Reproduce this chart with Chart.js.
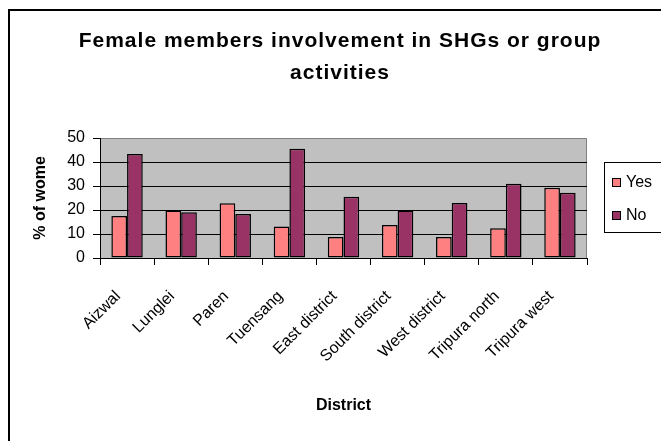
<!DOCTYPE html>
<html>
<head>
<meta charset="utf-8">
<script src="https://cdn.jsdelivr.net/npm/chart.js@4.4.1/dist/chart.umd.min.js"></script>
<style>
  html, body { margin: 0; padding: 0; background: #fff; overflow: hidden; }
  #wrap { position: relative; width: 661px; height: 441px; }
</style>
</head>
<body>
<div id="wrap"><canvas id="chart" width="661" height="441"></canvas></div>
<script>
// data
const districts = ['Aizwal', 'Lunglei', 'Paren', 'Tuensang', 'East district',
  'South district', 'West district', 'Tripura north', 'Tripura west'];
const yesValues = [17.5, 19.8, 22.8, 13.1, 8.8, 13.8, 8.8, 12.4, 29.3];
const noValues  = [43.3, 19.1, 18.3, 45.5, 25.5, 19.8, 22.9, 30.9, 27.2];
const seriesNames = ['Yes', 'No'];
const yMax = 50;
const yStep = 10;
const titleLines = ['Female members involvement in SHGs or group', 'activities'];
const yTitle = '% of wome';
const xTitle = 'District';

const FONT = "'Liberation Sans', Arial, Helvetica, sans-serif";
const YES_COLOR = '#FF8080';
const NO_COLOR = '#993366';

// plot background, outer frame, title and legend (Excel style)
const excelLook = {
  id: 'excelLook',
  beforeDraw(chart) {
    const { ctx, chartArea: a } = chart;
    ctx.save();
    ctx.fillStyle = '#fff';
    ctx.fillRect(0, 0, chart.width, chart.height);
    ctx.fillStyle = '#C0C0C0';
    ctx.fillRect(a.left, a.top, a.right - a.left, a.bottom - a.top);
    ctx.strokeStyle = '#808080';
    ctx.lineWidth = 1;
    ctx.beginPath();
    ctx.moveTo(a.left, a.top + 0.5);
    ctx.lineTo(a.right - 0.5, a.top + 0.5);
    ctx.lineTo(a.right - 0.5, a.bottom);
    ctx.stroke();
    ctx.restore();
  },
  afterDraw(chart) {
    const { ctx } = chart;
    ctx.save();
    // outer frame (only top and left edges are inside the picture)
    ctx.strokeStyle = '#000';
    ctx.lineWidth = 2;
    ctx.beginPath();
    ctx.moveTo(9, chart.height);
    ctx.lineTo(9, 10);
    ctx.lineTo(chart.width, 10);
    ctx.stroke();

    // title
    ctx.fillStyle = '#000';
    ctx.font = 'bold 21px ' + FONT;
    ctx.letterSpacing = '1px';
    ctx.textAlign = 'center';
    ctx.textBaseline = 'middle';
    titleLines.forEach((t, i) => ctx.fillText(t, 340, 41 + i * 32));
    ctx.letterSpacing = '0px';

    // legend
    ctx.lineWidth = 1;
    ctx.strokeRect(604.5, 162.5, 80, 70);
    ctx.font = '16px ' + FONT;
    ctx.textAlign = 'left';
    chart.data.datasets.forEach((ds, i) => {
      const cy = 183 + i * 33;
      ctx.fillStyle = ds.backgroundColor;
      ctx.fillRect(612, cy - 5, 9, 9);
      ctx.strokeRect(612.5, cy - 4.5, 8, 8);
      ctx.fillStyle = '#000';
      ctx.fillText(ds.label, 626, cy);
    });
    ctx.restore();
  }
};

new Chart(document.getElementById('chart'), {
  type: 'bar',
  data: {
    labels: districts,
    datasets: [
      { label: seriesNames[0], data: yesValues, backgroundColor: YES_COLOR },
      { label: seriesNames[1], data: noValues, backgroundColor: NO_COLOR }
    ]
  },
  options: {
    responsive: false,
    animation: false,
    devicePixelRatio: 1,
    layout: { padding: { left: 20, right: 74, top: 138, bottom: 0 } },
    datasets: {
      bar: {
        categoryPercentage: 0.58,
        barPercentage: 1,
        borderColor: '#000',
        borderWidth: 1.5,
        borderSkipped: false
      }
    },
    plugins: {
      legend: { display: false },
      title: { display: false },
      tooltip: { enabled: false }
    },
    scales: {
      x: {
        afterFit(scale) { scale.height = 183; },
        grid: {
          offset: true,
          drawOnChartArea: false,
          drawTicks: true,
          tickLength: 7,
          tickColor: '#000'
        },
        border: { color: '#000', width: 1 },
        ticks: {
          color: '#000',
          font: { family: FONT, size: 16 },
          minRotation: 45,
          maxRotation: 45,
          padding: 22,
          labelOffset: -9,
          autoSkip: false
        },
        title: {
          display: true,
          text: xTitle,
          color: '#000',
          font: { family: FONT, size: 16, weight: 'bold' },
          padding: { top: 0, bottom: 26 }
        }
      },
      y: {
        min: 0,
        max: yMax,
        afterFit(scale) { scale.width = 80; },
        grid: {
          color: ctx => ctx.tick && ctx.tick.value === yMax ? 'rgba(0,0,0,0)' : '#000',
          tickColor: '#000',
          tickLength: 7,
          lineWidth: 1
        },
        border: { color: '#000', width: 1 },
        ticks: {
          stepSize: yStep,
          color: '#000',
          font: { family: FONT, size: 16 },
          padding: 8
        },
        title: {
          display: true,
          text: yTitle,
          color: '#000',
          font: { family: FONT, size: 16, weight: 'bold' },
          padding: { top: 11, bottom: 0 }
        }
      }
    }
  },
  plugins: [excelLook]
});
</script>
</body>
</html>
